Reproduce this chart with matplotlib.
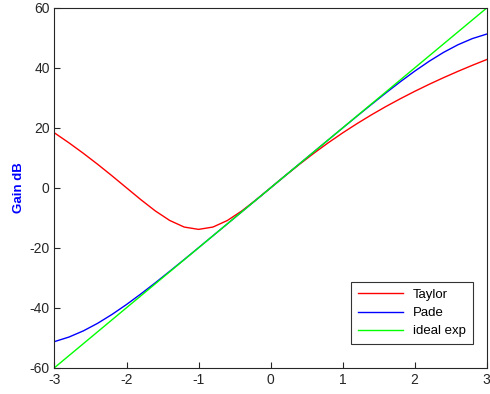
import matplotlib
matplotlib.use("Agg")
import matplotlib.pyplot as plt

# x samples and curve values (dB)
x = [-3.0, -2.8, -2.6, -2.4, -2.2, -2.0, -1.8, -1.6, -1.4, -1.2, -1.0,
     -0.8, -0.6, -0.4, -0.2, 0.0, 0.2, 0.4, 0.6, 0.8, 1.0,
     1.2, 1.4, 1.6, 1.8, 2.0, 2.2, 2.4, 2.6, 2.8, 3.0]

taylor = [18.33, 15.03, 11.53, 7.84, 3.98, 0.0, -3.97, -7.71, -10.89, -13.08, -13.86,
          -13.08, -10.89, -7.71, -3.97, 0.0, 3.98, 7.84, 11.53, 15.03, 18.33,
          21.43, 24.36, 27.12, 29.72, 32.19, 34.53, 36.75, 38.86, 40.88, 42.80]

pade = [-51.30, -49.79, -47.73, -45.18, -42.21, -38.92, -35.38, -31.67, -27.83, -23.93, -19.97,
        -15.99, -12.00, -8.00, -4.00, 0.0, 4.00, 8.00, 12.00, 15.99, 19.97,
        23.93, 27.83, 31.67, 35.38, 38.92, 42.21, 45.18, 47.73, 49.79, 51.30]

ideal_x = [-3, 3]
ideal = [-60, 60]

xticks = [-3, -2, -1, 0, 1, 2, 3]
yticks = [-60, -40, -20, 0, 20, 40, 60]

plt.rcParams['font.family'] = ['Liberation Sans', 'DejaVu Sans']
plt.rcParams['axes.unicode_minus'] = False

fig = plt.figure(figsize=(4.9, 3.94), dpi=100)
ax = fig.add_axes([0.1112, 0.0668, 0.8821, 0.9129])

ax.plot(x, taylor, color=(1, 0, 0), lw=1.0, label='Taylor')
ax.plot(x, pade, color=(0, 0, 1), lw=1.0, label='Pade')
ax.plot(ideal_x, ideal, color=(0, 1, 0), lw=1.0, label='ideal exp')

ax.set_xlim(-3, 3)
ax.set_ylim(-60, 60)
ax.set_xticks(xticks)
ax.set_yticks(yticks)
ax.tick_params(direction='in', length=4, width=0.8, labelsize=10,
               colors='#262626', top=False, right=False)
for s in ax.spines.values():
    s.set_color('#262626')
    s.set_linewidth(0.8)

ax.set_ylabel('Gain dB', color='blue', fontweight='bold', fontsize=9.5, labelpad=3)

leg = ax.legend(loc='lower right', bbox_to_anchor=(0.9676, 0.0659),
                borderaxespad=0, fancybox=False, edgecolor='black',
                fontsize=9.5, handlelength=3.4, labelspacing=0.45,
                handletextpad=0.8, borderpad=0.5)
leg.get_frame().set_linewidth(0.8)

fig.savefig('out.png', dpi=100)
